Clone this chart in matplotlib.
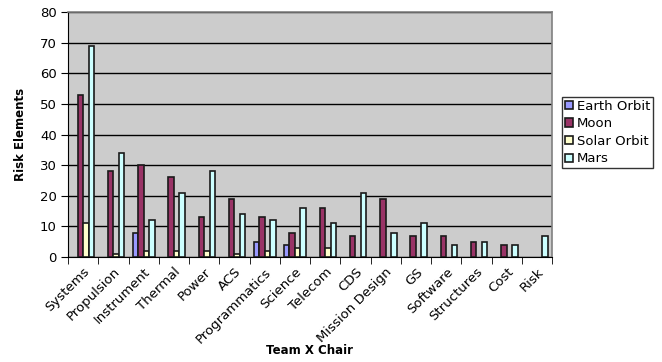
import numpy as np
import matplotlib
matplotlib.use('Agg')
import matplotlib.pyplot as plt

CATEGORIES = ['Systems', 'Propulsion', 'Instrument', 'Thermal', 'Power', 'ACS',
              'Programmatics', 'Science', 'Telecom', 'CDS', 'Mission Design', 'GS',
              'Software', 'Structures', 'Cost', 'Risk']
EARTH_ORBIT = [0, 0, 8, 0, 0, 0, 5, 4, 0, 0, 0, 0, 0, 0, 0, 0]
MOON = [53, 28, 30, 26, 13, 19, 13, 8, 16, 7, 19, 7, 7, 5, 4, 0]
SOLAR_ORBIT = [11, 1, 2, 2, 2, 1, 2, 3, 3, 0, 0, 0, 0, 0, 0, 0]
MARS = [69, 34, 12, 21, 28, 14, 12, 16, 11, 21, 8, 11, 4, 5, 4, 7]

SERIES = [('Earth Orbit', EARTH_ORBIT, '#9999FF'),
          ('Moon', MOON, '#993366'),
          ('Solar Orbit', SOLAR_ORBIT, '#FFFFCC'),
          ('Mars', MARS, '#CCFFFF')]

W, H = 662, 362
plt.rcParams['font.family'] = 'DejaVu Sans'

fig = plt.figure(figsize=(W / 100, H / 100), dpi=100)
ax = fig.add_axes([68 / W, 1 - 257 / H, (552 - 68) / W, (257 - 12) / H])
ax.set_facecolor('#CCCCCC')

x = np.arange(len(CATEGORIES))
width = 1.0 / 5.5
rects = []
for i, (name, vals, color) in enumerate(SERIES):
    # zero values are not drawn at all in the original
    heights = np.where(np.array(vals) == 0, np.nan, vals)
    rc = ax.bar(x - 1.5 * width + i * width, heights, width, color=color,
                edgecolor='#1a1a1a', linewidth=1.2, zorder=3, label=name)
    rects.append(rc)

ax.set_xlim(-0.5, len(CATEGORIES) - 0.5)
ax.set_ylim(0, 80)
ax.set_yticks(range(0, 81, 10))
ax.yaxis.grid(True, color='black', linewidth=1.0, zorder=0)
ax.tick_params(axis='y', labelsize=9.5, length=5, direction='out', pad=3)

ax.set_xticks(x)
ax.set_xticklabels(CATEGORIES, rotation=45, ha='right', rotation_mode='anchor', fontsize=9.5)
ax.tick_params(axis='x', length=0, pad=6)
ax.set_xticks(np.arange(len(CATEGORIES) + 1) - 0.5, minor=True)
ax.tick_params(axis='x', which='minor', length=5, direction='out')

for side in ['top', 'right']:
    ax.spines[side].set_color('#808080')
    ax.spines[side].set_linewidth(1.2)
ax.spines['left'].set_color('black')
ax.spines['bottom'].set_color('black')

fig.text(21 / W, 1 - 134 / H, 'Risk Elements', rotation=90, ha='center', va='center',
         fontsize=8.5, fontweight='bold')
fig.text(310 / W, 1 - 351 / H, 'Team X Chair', ha='center', va='center',
         fontsize=8.5, fontweight='bold')

leg = fig.legend(handles=rects, loc='upper left', bbox_to_anchor=(562 / W, 1 - 97 / H),
                 fontsize=9.5, frameon=True, fancybox=False, edgecolor='black',
                 handlelength=0.6, handleheight=0.6, handletextpad=0.3,
                 borderpad=0.2, labelspacing=0.35, borderaxespad=0)
leg.get_frame().set_linewidth(1.0)

fig.savefig('out.png', dpi=100)
